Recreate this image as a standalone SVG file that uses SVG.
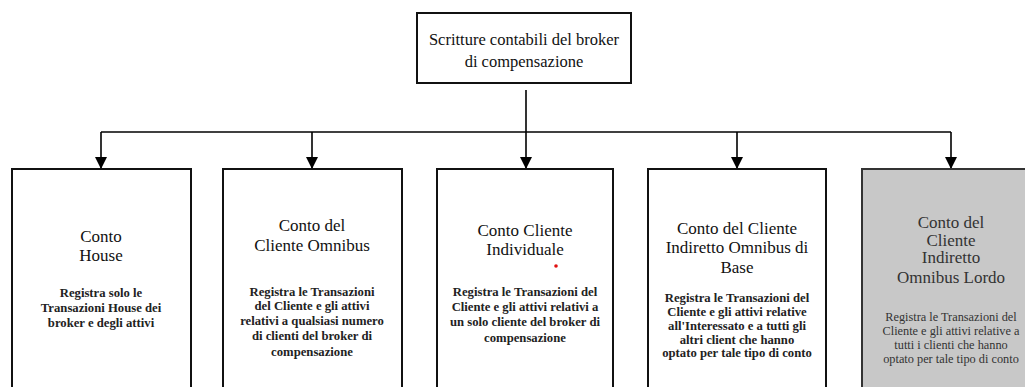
<svg xmlns="http://www.w3.org/2000/svg" width="1025" height="387" viewBox="0 0 1025 387">
<defs>
<marker id="arr" viewBox="0 0 12 12" refX="12" refY="6" markerWidth="12" markerHeight="12" markerUnits="userSpaceOnUse" orient="auto">
<path d="M0,0 L12,6 L0,12 Z" fill="#000"/>
</marker>
</defs>
<style>
.box{fill:#fff;stroke:#111;stroke-width:2}
.grey{fill:#c8c8c8;stroke:#333;stroke-width:2}
text{font-family:'Liberation Serif','DejaVu Serif',serif;text-anchor:middle;fill:#111}
.h{font-size:17px}
.d{font-size:12.7px;font-weight:bold;fill:#222}
.gh{font-size:17px;fill:#333}
.gd{font-size:12.3px;fill:#333}
.c{fill:none;stroke:#000;stroke-width:1.6}
</style>
<g id="connectors">
<line class="c" x1="526" y1="90" x2="526" y2="132" stroke-width="2"/>
<line class="c" x1="101" y1="132" x2="951" y2="132"/>
<line class="c" x1="101" y1="132" x2="101" y2="169" marker-end="url(#arr)"/>
<line class="c" x1="312" y1="132" x2="312" y2="169" marker-end="url(#arr)"/>
<line class="c" x1="526" y1="132" x2="526" y2="169" marker-end="url(#arr)" stroke-width="2"/>
<line class="c" x1="737" y1="132" x2="737" y2="169" marker-end="url(#arr)"/>
<line class="c" x1="951" y1="132" x2="951" y2="169" marker-end="url(#arr)"/>
</g>
<g id="root" font-family="Liberation Serif, serif">
<rect class="box" x="417" y="13" width="214" height="70"/>
<text x="524" y="45" style="font-size:16.5px">Scritture contabili del broker</text>
<text x="524" y="67" style="font-size:16.5px">di compensazione</text>
</g>
<g id="house">
<rect class="box" x="12" y="169" width="179" height="240"/>
<text class="h" x="101" y="242">Conto</text>
<text class="h" x="101" y="261">House</text>
<text class="d" x="101" y="297">Registra solo le</text>
<text class="d" x="101" y="312">Transazioni House dei</text>
<text class="d" x="101" y="327">broker e degli attivi</text>
</g>
<g id="omnibus">
<rect class="box" x="223" y="169" width="179" height="240"/>
<text class="h" x="312" y="231">Conto del</text>
<text class="h" x="312" y="251">Cliente Omnibus</text>
<text class="d" x="312" y="296">Registra le Transazioni</text>
<text class="d" x="312" y="310">del Cliente e gli attivi</text>
<text class="d" x="312" y="325">relativi a qualsiasi numero</text>
<text class="d" x="312" y="340">di clienti del broker di</text>
<text class="d" x="312" y="356">compensazione</text>
</g>
<g id="individuale">
<rect class="box" x="437" y="169" width="176" height="240"/>
<text class="h" x="525" y="236">Conto Cliente</text>
<text class="h" x="525" y="255">Individuale</text>
<circle cx="556" cy="266" r="1.8" fill="#e01010"/>
<text class="d" x="525" y="296">Registra le Transazioni del</text>
<text class="d" x="525" y="311">Cliente e gli attivi relativi a</text>
<text class="d" x="525" y="326">un solo cliente del broker di</text>
<text class="d" x="525" y="342">compensazione</text>
</g>
<g id="indiretto-base">
<rect class="box" x="648" y="169" width="178" height="240"/>
<text class="h" x="737" y="234">Conto del Cliente</text>
<text class="h" x="737" y="253">Indiretto Omnibus di</text>
<text class="h" x="737" y="273">Base</text>
<text class="d" x="737" y="302">Registra le Transazioni del</text>
<text class="d" x="737" y="316">Cliente e gli attivi relative</text>
<text class="d" x="737" y="330">all'Interessato e a tutti gli</text>
<text class="d" x="737" y="344">altri client che hanno</text>
<text class="d" x="737" y="357">optato per tale tipo di conto</text>
</g>
<g id="indiretto-lordo">
<rect class="grey" x="862" y="169" width="180" height="240"/>
<text class="gh" x="951" y="228">Conto del</text>
<text class="gh" x="951" y="246">Cliente</text>
<text class="gh" x="951" y="263">Indiretto</text>
<text class="gh" x="951" y="283">Omnibus Lordo</text>
<text class="gd" x="951" y="321">Registra le Transazioni del</text>
<text class="gd" x="951" y="335">Cliente e gli attivi relative a</text>
<text class="gd" x="951" y="349">tutti i clienti che hanno</text>
<text class="gd" x="951" y="363">optato per tale tipo di conto</text>
</g>
</svg>
